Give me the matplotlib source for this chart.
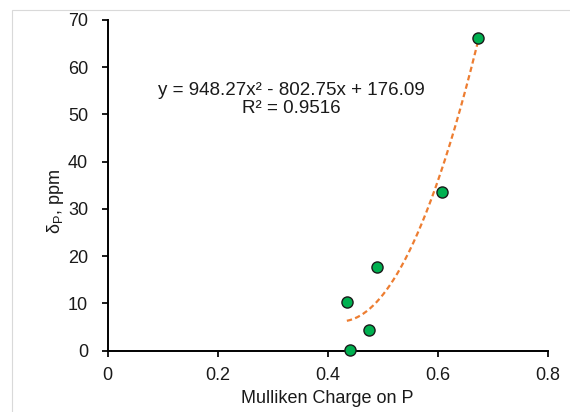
import numpy as np
import matplotlib
matplotlib.use("Agg")
import matplotlib.pyplot as plt
from matplotlib.patches import Rectangle

plt.rcParams['font.family'] = ['Liberation Sans', 'DejaVu Sans']
plt.rcParams['mathtext.fontset'] = 'custom'
plt.rcParams['mathtext.rm'] = 'Liberation Sans'
plt.rcParams['mathtext.it'] = 'Liberation Sans:italic'

# Data
charge = [0.435, 0.440, 0.476, 0.490, 0.607, 0.673]
shift_ppm = [10.4, 0.2, 4.4, 17.8, 33.6, 66.2]
coef = [948.27, -802.75, 176.09]
eq_text = "y = 948.27x\u00b2 - 802.75x + 176.09\nR\u00b2 = 0.9516"
xticks = [0, 0.2, 0.4, 0.6, 0.8]
xticklabels = ["0", "0.2", "0.4", "0.6", "0.8"]
yticks = [0, 10, 20, 30, 40, 50, 60, 70]

fig = plt.figure(figsize=(5.7, 4.12), dpi=100)
fig.patches.append(Rectangle((11.5/570, -0.01), 1.0, 1 - 9.5/412 + 0.01,
                             transform=fig.transFigure, fill=False,
                             edgecolor='#d9d9d9', linewidth=0.8))
ax = fig.add_axes([107.5/570, 1 - 350.7/412, (547.7 - 107.5)/570, (350.7 - 20)/412])

xs = np.linspace(min(charge), max(charge), 200)
ys = np.polyval(coef, xs)
ax.plot(xs, ys, linestyle=(0, (2.4, 1.5)), color='#ED7D31', linewidth=1.6, zorder=2)
ax.plot(charge, shift_ppm, linestyle='none', marker='o', markersize=8,
        markerfacecolor='#00B050', markeredgecolor='#1a1a1a', markeredgewidth=1.0,
        zorder=3, clip_on=False)

ax.set_xlim(0, 0.8)
ax.set_ylim(0, 70)
ax.set_xticks(xticks)
ax.set_xticklabels(xticklabels)
ax.set_yticks(yticks)
for s in ['top', 'right']:
    ax.spines[s].set_visible(False)
for s in ['left', 'bottom']:
    ax.spines[s].set_linewidth(1.4)
    ax.spines[s].set_color('black')
ax.tick_params(axis='both', direction='out', length=4, width=1.4,
               labelsize=13, colors='#1a1a1a')
ax.tick_params(axis='y', pad=10)
ax.tick_params(axis='x', pad=8)
ax.set_xlabel("Mulliken Charge on P", fontsize=13, labelpad=4, color='#1a1a1a')
ax.set_ylabel(r"$\mathrm{\delta}_{\mathrm{P}}$, ppm", fontsize=13, color='#1a1a1a')
ax.yaxis.set_label_coords(-0.094, 0.45)

ax.text(0.334, 53.2, eq_text, ha='center', va='center', fontsize=13.5,
        linespacing=1.1, color='#1a1a1a')

fig.savefig("out.png", dpi=100)
